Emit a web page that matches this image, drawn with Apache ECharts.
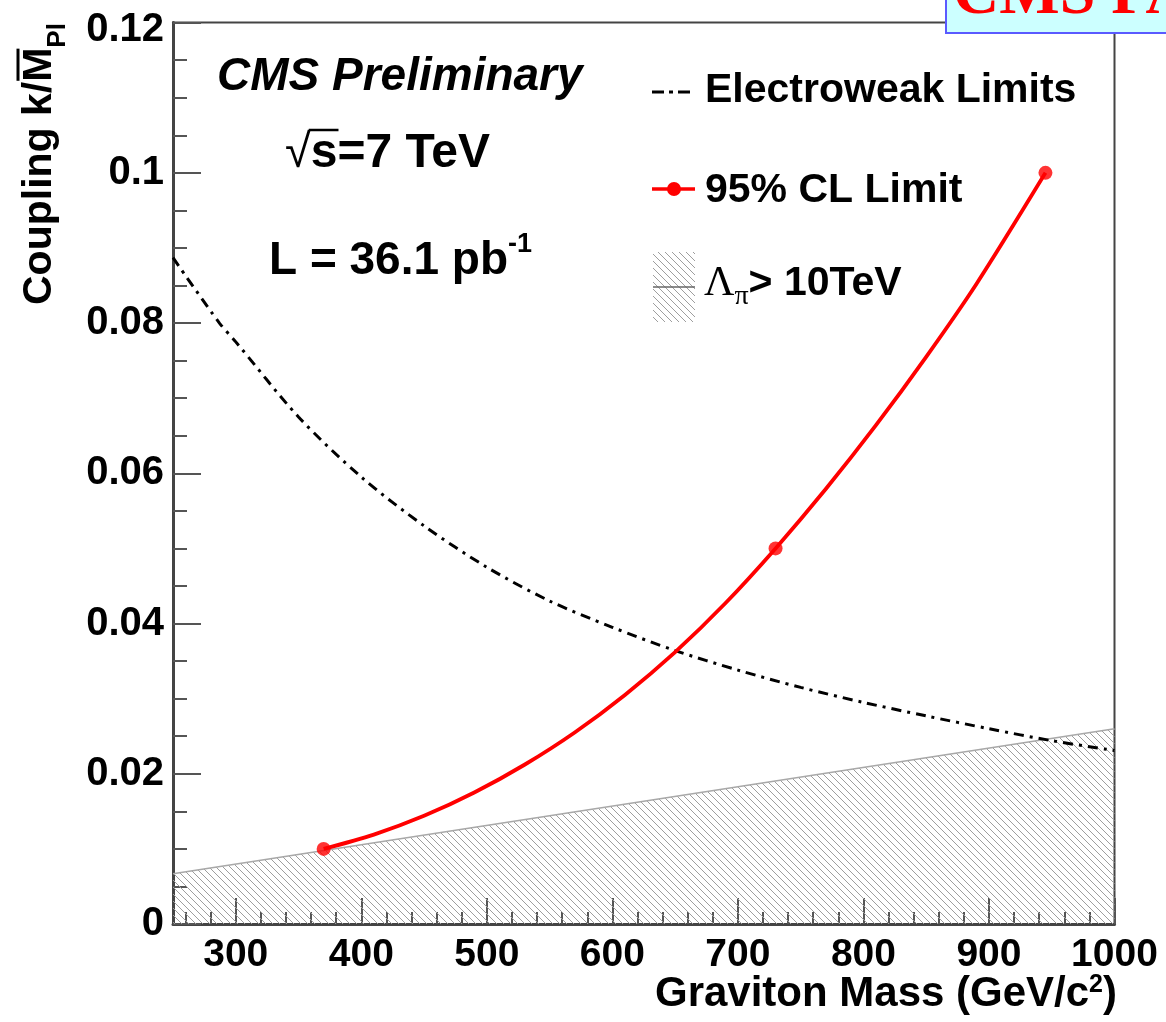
<!DOCTYPE html>
<html><head><meta charset="utf-8">
<script src="https://cdn.jsdelivr.net/npm/echarts@6/dist/echarts.min.js"></script>
<style>html,body{margin:0;padding:0;background:#fff}#c{width:1166px;height:1022px}</style>
</head><body><div id="c"></div>
<script>
// ---- data ----
const ewMass     = [250, 287, 300, 350, 400, 450, 500, 550, 600, 650, 700, 750, 800, 850, 900, 950, 1000];
const ewCoupling = [0.0887, 0.0800, 0.0775, 0.0675, 0.0595, 0.0530, 0.0475, 0.0430, 0.0395, 0.0364, 0.0338, 0.0315, 0.0295, 0.0277, 0.0260, 0.0244, 0.0231];
// measured limit points (markers)
const clMass     = [370, 730, 945];
const clCoupling = [0.01, 0.05, 0.10];
// positions of the drawn limit curve
const clCurveMass     = [370, 410, 450, 490, 530, 570, 610, 650, 690, 730, 770, 810, 850, 890, 945];
const clCurveCoupling = [0.0100, 0.0119, 0.0144, 0.0175, 0.0212, 0.0255, 0.0305, 0.0362, 0.0427, 0.0500, 0.0579, 0.0664, 0.0755, 0.0852, 0.1000];
const lambdaMass     = [250, 1000];
const lambdaCoupling = [0.0067, 0.0260];
const xMajorTicks = [300, 400, 500, 600, 700, 800, 900, 1000];
const xMinorTicks = [260, 280, 320, 340, 360, 380, 420, 440, 460, 480, 520, 540, 560, 580, 620, 640, 660, 680,
                     720, 740, 760, 780, 820, 840, 860, 880, 920, 940, 960, 980];

const SANS = "'Liberation Sans', Arial, Helvetica, sans-serif";
const SERIF = "'Liberation Serif', 'Times New Roman', serif";

function hatchCanvas() {
  const s = 7, c = document.createElement('canvas');
  c.width = s; c.height = s;
  const g = c.getContext('2d');
  g.strokeStyle = '#9e9e9e'; g.lineWidth = 1.0;
  g.beginPath();
  for (let k = -1; k <= 1; k++) { g.moveTo(k * s, 0); g.lineTo(k * s + s, s); }
  g.stroke();
  return c;
}
const hatch = hatchCanvas();

const mctx = document.createElement('canvas').getContext('2d');
function fontStr(p) { return (p.style || 'normal') + ' ' + (p.weight || 'bold') + ' ' + p.size + 'px ' + (p.family || SANS); }
function run(x, y, parts, align) {
  const ws = parts.map(p => { mctx.font = fontStr(p); return mctx.measureText(p.text).width; });
  const total = ws.reduce((a, b) => a + b, 0);
  let cx = align === 'right' ? x - total : align === 'center' ? x - total / 2 : x;
  const xs = [];
  const els = parts.map((p, i) => {
    xs.push(cx);
    const el = { type: 'text', x: cx, y: y + (p.dy || 0), z: 100,
      style: { text: p.text, font: fontStr(p), fill: p.color || '#000', textAlign: 'left', textVerticalAlign: 'middle' } };
    cx += ws[i];
    return el;
  });
  return { els, xs, ws };
}

const graphics = [];
// CMS Preliminary
graphics.push(...run(217, 77, [{ text: 'CMS Preliminary', size: 46, style: 'italic' }]).els);
// sqrt(s) = 7 TeV
const rs = run(285, 154, [{ text: '\u221A', size: 47, weight: 'normal' }, { text: 's=7 TeV', size: 48 }]);
graphics.push(...rs.els);
mctx.font = fontStr({ size: 48 });
const sW = mctx.measureText('s').width;
graphics.push({ type: 'line', z: 100, shape: { x1: rs.xs[1] - 2, y1: 130, x2: rs.xs[1] + sW + 1, y2: 130 }, style: { stroke: '#000', lineWidth: 2.5 } });
// L = 36.1 pb-1
graphics.push(...run(269, 261, [{ text: 'L = 36.1 pb', size: 46 }, { text: '-1', size: 27, dy: -16 }]).els);

// legend
graphics.push({ type: 'line', z: 100, shape: { x1: 652, y1: 92, x2: 695, y2: 92 }, style: { stroke: '#000', lineWidth: 3, lineDash: [12, 5, 4, 5] } });
graphics.push(...run(705, 91, [{ text: 'Electroweak Limits', size: 41 }]).els);
graphics.push({ type: 'line', z: 100, shape: { x1: 652, y1: 189, x2: 695, y2: 189 }, style: { stroke: '#ff0000', lineWidth: 3.5 } });
graphics.push({ type: 'circle', z: 101, shape: { cx: 674, cy: 189, r: 7 }, style: { fill: '#ff0000' } });
graphics.push(...run(705, 191, [{ text: '95% CL Limit', size: 41 }]).els);
graphics.push({ type: 'rect', z: 100, shape: { x: 653, y: 252, width: 42, height: 70 }, style: { fill: { image: hatch, repeat: 'repeat' } } });
graphics.push({ type: 'line', z: 101, shape: { x1: 653, y1: 287, x2: 695, y2: 287 }, style: { stroke: '#666', lineWidth: 1.5 } });
graphics.push(...run(704, 284, [
  { text: '\u039B', size: 42, weight: 'normal', family: SERIF },
  { text: '\u03C0', size: 28, weight: 'normal', family: SERIF, dy: 13 },
  { text: '> 10TeV', size: 41 }
]).els);

// x axis title
graphics.push(...run(1117, 994, [
  { text: 'Graviton Mass (GeV/c', size: 42 },
  { text: '2', size: 25, dy: -9 },
  { text: ')', size: 42 }
], 'right').els);

// y axis title (rotated group)
(function () {
  const p1 = { text: 'Coupling k/', size: 41 }, p2 = { text: 'M', size: 41 }, p3 = { text: 'Pl', size: 26, dy: 18 };
  const r = run(0, 0, [p1, p2, p3]);
  const children = r.els.map(e => { e.z = 100; return e; });
  children.push({ type: 'line', z: 100, shape: { x1: r.xs[1] + 1, y1: -22, x2: r.xs[1] + r.ws[1] - 1, y2: -22 }, style: { stroke: '#000', lineWidth: 3 } });
  graphics.push({ type: 'group', x: 40, y: 305, rotation: Math.PI / 2, z: 100, children });
})();

// top-right badge
graphics.push({ type: 'rect', z: 110, shape: { x: 946, y: -3, width: 240, height: 36 }, style: { fill: '#ccffff', stroke: '#5a5aff', lineWidth: 2 } });
graphics.push({ type: 'text', z: 111, x: 953, y: -4, style: { text: 'CMS PAS', font: 'bold 64px ' + SERIF, fill: '#ff0000', textAlign: 'left', textVerticalAlign: 'middle' } });

const chart = echarts.init(document.getElementById('c'), null, { renderer: 'canvas' });
chart.setOption({
  animation: false,
  backgroundColor: '#fff',
  grid: { left: 173, right: 51.5, top: 22.6, bottom: 98, show: true, borderColor: '#444', borderWidth: 2 },
  xAxis: [
    { type: 'value', min: 250, max: 1000, position: 'bottom',
      axisLine: { show: true, onZero: false, lineStyle: { color: '#444', width: 3 } },
      axisTick: { show: true, inside: true, length: 26, customValues: xMajorTicks, lineStyle: { color: '#555', width: 2 } },
      axisLabel: { customValues: xMajorTicks, margin: 12, color: '#000', fontSize: 39, fontWeight: 'bold', fontFamily: SANS,
        formatter: v => String(v) },
      splitLine: { show: false } },
    { type: 'value', min: 250, max: 1000, position: 'bottom',
      axisLine: { show: false },
      axisTick: { show: true, inside: true, length: 12, customValues: xMinorTicks, lineStyle: { color: '#555', width: 2 } },
      axisLabel: { show: false }, splitLine: { show: false } }
  ],
  yAxis: { type: 'value', min: 0, max: 0.12, interval: 0.02,
    axisLine: { show: true, onZero: false, lineStyle: { color: '#444', width: 3 } },
    axisTick: { show: true, inside: true, length: 28, lineStyle: { color: '#555', width: 2 } },
    minorTick: { show: true, splitNumber: 4, length: 14, lineStyle: { color: '#555', width: 2 } },
    axisLabel: { margin: 9, color: '#000', fontSize: 40, fontWeight: 'bold', fontFamily: SANS,
      formatter: v => {
        const s = v === 0 ? '0' : String(parseFloat(v.toFixed(3)));
        return v >= 0.119 ? '{t|' + s + '}' : s;
      },
      rich: { t: { fontSize: 40, fontWeight: 'bold', fontFamily: SANS, color: '#000', padding: [14, 0, 0, 0] } } },
    splitLine: { show: false } },
  series: [
    { name: 'Λπ > 10TeV', type: 'line', data: lambdaMass.map((m, i) => [m, lambdaCoupling[i]]),
      symbol: 'none', lineStyle: { color: '#a8a8a8', width: 1.5 },
      areaStyle: { color: { image: hatch, repeat: 'repeat' }, opacity: 1 }, z: 1 },
    { name: 'Electroweak Limits', type: 'line', data: ewMass.map((m, i) => [m, ewCoupling[i]]),
      smooth: 0.3, symbol: 'none', lineStyle: { color: '#000', width: 3, type: [10, 6, 3, 6] }, z: 3 },
    { name: '95% CL Limit curve', type: 'line', data: clCurveMass.map((m, i) => [m, clCurveCoupling[i]]),
      smooth: 0.3, symbol: 'none', lineStyle: { color: '#ff0000', width: 3.8 }, z: 4 },
    { name: '95% CL Limit', type: 'scatter', data: clMass.map((m, i) => [m, clCoupling[i]]),
      symbol: 'circle', symbolSize: 14, itemStyle: { color: '#ff0000' }, z: 5 }
  ],
  graphic: { elements: graphics }
});
</script></body></html>
